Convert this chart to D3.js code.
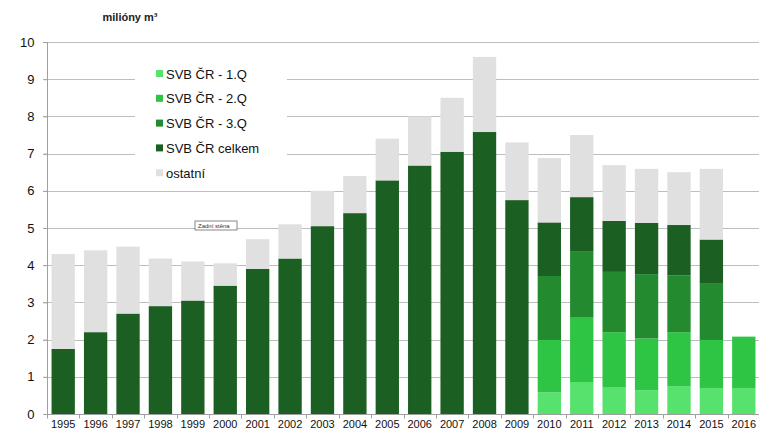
<!DOCTYPE html>
<html>
<head>
<meta charset="utf-8">
<script src="https://cdn.jsdelivr.net/npm/d3@7"></script>
<style>
  body { margin: 0; background: #fff; }
  svg { display: block; font-family: "Liberation Sans", Arial, sans-serif; }
</style>
</head>
<body>
<svg width="759" height="429"></svg>
<script>
// roky
let roky = ["1995","1996","1997","1998","1999","2000","2001","2002","2003","2004","2005",
            "2006","2007","2008","2009","2010","2011","2012","2013","2014","2015","2016"];

// kumulativni hodnoty (miliony m3), null = nic
let q1     = [null,null,null,null,null,null,null,null,null,null,null,null,null,null,null, 0.58, 0.86, 0.71, 0.64, 0.75, 0.70, 0.70];
let q2     = [null,null,null,null,null,null,null,null,null,null,null,null,null,null,null, 1.99, 2.59, 2.20, 2.03, 2.20, 1.99, 2.08];
let q3     = [null,null,null,null,null,null,null,null,null,null,null,null,null,null,null, 3.71, 4.38, 3.82, 3.76, 3.73, 3.52, null];
let celkem = [1.75, 2.20, 2.70, 2.90, 3.05, 3.45, 3.90, 4.18, 5.05, 5.40, 6.28, 6.68, 7.05, 7.58, 5.75, 5.15, 5.83, 5.19, 5.14, 5.08, 4.69, null];
let celkovy= [4.30, 4.40, 4.50, 4.18, 4.10, 4.05, 4.70, 5.10, 6.00, 6.40, 7.40, 8.00, 8.50, 9.60, 7.30, 6.88, 7.50, 6.69, 6.59, 6.50, 6.59, null];

let y_ticks = [0,1,2,3,4,5,6,7,8,9,10];

let legenda = ["SVB ČR - 1.Q", "SVB ČR - 2.Q", "SVB ČR - 3.Q", "SVB ČR celkem", "ostatní"];
let barvy = ["#56e26c", "#2ec444", "#238a30", "#1c5f23", "#e0e0e0"];

let $svg = d3.select("svg");

let m_left = 47, m_right = 760, m_top = 42, m_bottom = 414;

let x = d3.scaleBand()
  .domain(roky)
  .range([m_left, m_right])
  .paddingInner(0.28)
  .paddingOuter(0.14);

let y = d3.scaleLinear()
  .domain([0, 10])
  .range([m_bottom, m_top]);

// mrizka
$svg.append("g")
  .selectAll("line")
  .data(y_ticks)
  .enter()
  .append("line")
  .attr("x1", m_left - 4)
  .attr("x2", m_right)
  .attr("y1", d => Math.round(y(d)) + 0.5)
  .attr("y2", d => Math.round(y(d)) + 0.5)
  .attr("stroke", "#bdbdbd")
  .attr("stroke-width", 1);

// segmenty: [spodek, vrsek, barva]
let segmenty = [];
roky.forEach(function(r, i) {
  let vrstvy = [
    [0, q1[i], barvy[0]],
    [q1[i], q2[i], barvy[1]],
    [q2[i], q3[i], barvy[2]],
    [q3[i] == null ? 0 : q3[i], celkem[i], barvy[3]],
    [celkem[i], celkovy[i], barvy[4]]
  ];
  vrstvy.forEach(function(v) {
    if (v[1] != null && v[0] != null) segmenty.push({rok: r, od: v[0], po: v[1], barva: v[2]});
  });
});

$svg.append("g")
  .selectAll("rect")
  .data(segmenty)
  .enter()
  .append("rect")
  .attr("x", d => x(d.rok))
  .attr("width", x.bandwidth())
  .attr("y", d => y(d.po))
  .attr("height", d => y(d.od) - y(d.po))
  .attr("fill", d => d.barva);

// osa y
let osa_y = d3.axisLeft(y).tickValues(y_ticks).tickSize(4).tickPadding(9);
let gy = $svg.append("g")
  .attr("transform", "translate(" + (m_left + 0.5) + ",0)")
  .call(osa_y);
gy.select(".domain").attr("stroke", "#a0a0a0").attr("d", "M0," + m_top + "V" + m_bottom);
gy.selectAll(".tick line").attr("stroke", "#a0a0a0");
gy.selectAll(".tick text").attr("font-size", 13).attr("fill", "#111");

// osa x
let osa_x = d3.axisBottom(x).tickSize(0).tickPadding(6);
let gx = $svg.append("g")
  .attr("transform", "translate(0," + (m_bottom + 0.5) + ")")
  .call(osa_x);
gx.select(".domain").attr("stroke", "#a0a0a0").attr("d", "M" + m_left + ",0H" + m_right);
gx.selectAll(".tick text").attr("font-size", 11).attr("fill", "#111");

// male carky mezi kategoriemi
gx.append("g")
  .selectAll("line")
  .data(roky)
  .enter()
  .append("line")
  .attr("x1", d => Math.round(x(d) - x.step() * x.paddingInner() / 2) + 0.5)
  .attr("x2", d => Math.round(x(d) - x.step() * x.paddingInner() / 2) + 0.5)
  .attr("y1", 0)
  .attr("y2", 4)
  .attr("stroke", "#a0a0a0");

// nadpis jednotek
$svg.append("text")
  .attr("x", 130)
  .attr("y", 21)
  .attr("text-anchor", "middle")
  .attr("font-size", 11)
  .attr("font-weight", "bold")
  .attr("fill", "#222")
  .text("milióny m³");

// legenda
let lg = $svg.append("g");
lg.append("rect")
  .attr("x", 135).attr("y", 56)
  .attr("width", 152).attr("height", 132)
  .attr("fill", "#fff");

let polozky = lg.selectAll("g.polozka")
  .data(legenda)
  .enter()
  .append("g")
  .classed("polozka", true)
  .attr("transform", (d, i) => "translate(156," + (73.5 + i * 24.8) + ")");

polozky.append("rect")
  .attr("x", 0).attr("y", -3.5)
  .attr("width", 7).attr("height", 7)
  .attr("fill", (d, i) => barvy[i]);

polozky.append("text")
  .attr("x", 10)
  .attr("y", 5)
  .attr("font-size", 13)
  .attr("fill", "#111")
  .text(d => d);

// popisek "Zadni stena"
let zs = $svg.append("g").attr("transform", "translate(195,221)");
zs.append("rect")
  .attr("width", 42).attr("height", 9)
  .attr("fill", "#fff")
  .attr("stroke", "#555")
  .attr("stroke-width", 0.7);
zs.append("text")
  .attr("x", 3).attr("y", 6.8)
  .attr("font-size", 6)
  .attr("fill", "#333")
  .text("Zadní stěna");
</script>
</body>
</html>
